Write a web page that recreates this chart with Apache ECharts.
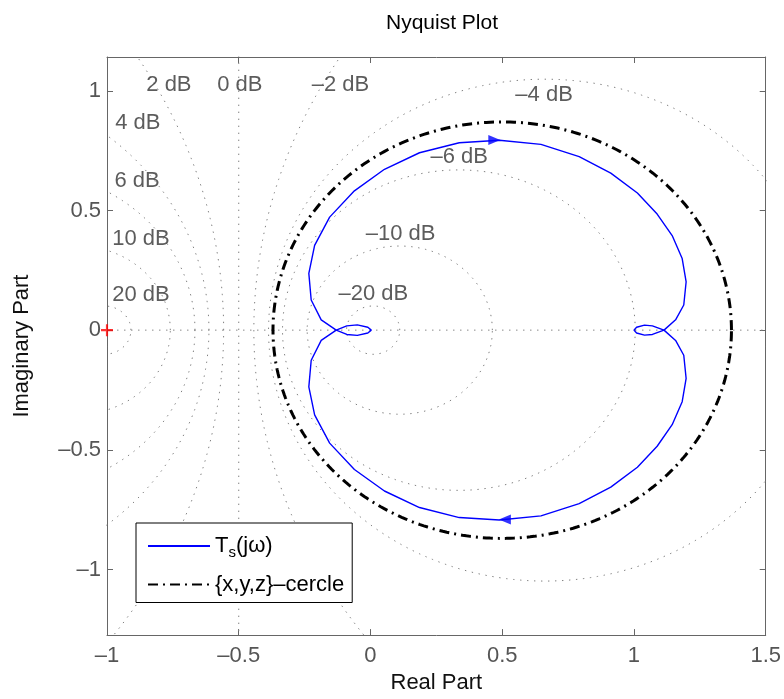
<!DOCTYPE html>
<html>
<head>
<meta charset="utf-8">
<title>Nyquist Plot</title>
<script src="https://cdn.jsdelivr.net/npm/echarts@6/dist/echarts.min.js"></script>
<style>
  html, body { margin: 0; padding: 0; background: #fff; }
  #chart { width: 784px; height: 699px; }
</style>
</head>
<body>
<div id="chart"></div>
<script>
// T_s(jw), in drawing order (closed path)
var tsRe = [-0.130, -0.187, -0.225, -0.234, -0.212, -0.155, -0.061, 0.053, 0.186, 0.337, 0.489, 0.647, 0.792, 0.912, 1.013, 1.088, 1.145, 1.183, 1.198, 1.189, 1.158, 1.114,
  1.070, 1.040, 1.010, 1.000, 1.010, 1.040, 1.070, 1.114,
  1.158, 1.189, 1.198, 1.183, 1.145, 1.088, 1.013, 0.912, 0.792, 0.647, 0.489, 0.337, 0.186, 0.053, -0.061, -0.155, -0.212, -0.234, -0.225, -0.187, -0.130,
  -0.090, -0.050, -0.010, 0.003, -0.010, -0.050, -0.090, -0.130]
var tsIm = [0.000, 0.043, 0.126, 0.237, 0.354, 0.472, 0.582, 0.672, 0.741, 0.783, 0.793, 0.776, 0.725, 0.656, 0.573, 0.485, 0.395, 0.299, 0.202, 0.105, 0.043, 0.000,
  -0.018, -0.021, -0.012, 0.000, 0.012, 0.021, 0.018, 0.000,
  -0.043, -0.105, -0.202, -0.299, -0.395, -0.485, -0.573, -0.656, -0.725, -0.776, -0.793, -0.783, -0.741, -0.672, -0.582, -0.472, -0.354, -0.237, -0.126, -0.043, 0.000,
  0.018, 0.022, 0.012, 0.000, -0.012, -0.022, -0.018, 0.000]

// direction arrows on T_s
var arrowRe = [0.47, 0.51]
var arrowIm = [0.794, -0.791]
var arrowRot = [-90, 90]

// {x,y,z} circle
var cercleCenter = [0.5, 0]
var cercleRadius = 0.87

// M-circles (dB) of the nyquist grid, 0 dB is the line Re = -0.5
var gridDb = [-20, -10, -6, -4, -2, 2, 4, 6, 10, 20]
var dbText = ['20 dB', '10 dB', '6 dB', '4 dB', '2 dB', '0 dB', '\u20132 dB', '\u20134 dB', '\u20136 dB', '\u201310 dB', '\u201320 dB']
var dbTextRe = [-0.871, -0.871, -0.886, -0.883, -0.765, -0.496, -0.114, 0.659, 0.337, 0.114, 0.011]
var dbTextIm = [0.145, 0.382, 0.622, 0.867, 1.025, 1.025, 1.025, 0.983, 0.722, 0.402, 0.153]

var xTicks = [-1, -0.5, 0, 0.5, 1, 1.5]
var yTicks = [-1, -0.5, 0, 0.5, 1]
var seriesNames = ['T_s(j\u03c9)', '{x,y,z}\u2013cercle']

var FONT = 'Liberation Sans, Arial, Helvetica, sans-serif'
var FS = 22

function circlePts(cx, cy, r) {
  var pts = []
  for (var i = 0; i <= 720; i++) {
    var t = i / 720 * 2 * Math.PI
    pts.push([cx + r * Math.cos(t), cy + r * Math.sin(t)])
  }
  return pts
}

function mCircle(db) {
  var m = Math.pow(10, db / 20)
  var m2 = m * m
  return circlePts(-m2 / (m2 - 1), 0, Math.abs(m / (m2 - 1)))
}

function fmt(v) {
  return v < 0 ? '\u2013' + String(-v) : String(v)
}

var gridLine = { color: '#808080', width: 1, type: [1.4, 5.6] }

var series = []
gridDb.forEach(function (db) {
  series.push({
    type: 'line', data: mCircle(db), symbol: 'none', silent: true,
    lineStyle: gridLine, z: 1
  })
})
series.push({ type: 'line', data: [[-0.5, -5], [-0.5, 5]], symbol: 'none', silent: true, lineStyle: gridLine, z: 1 })
series.push({ type: 'line', data: [[-5, 0], [5, 0]], symbol: 'none', silent: true, lineStyle: gridLine, z: 1 })

series.push({
  type: 'scatter', silent: true, symbolSize: 0, z: 3,
  data: dbText.map(function (t, i) { return { value: [dbTextRe[i], dbTextIm[i]], name: t } }),
  label: {
    show: true, position: 'inside', formatter: '{b}',
    fontSize: FS, color: '#333', fontFamily: FONT
  }
})

series.push({
  name: seriesNames[1], type: 'line', symbol: 'none', z: 4,
  data: circlePts(cercleCenter[0], cercleCenter[1], cercleRadius),
  itemStyle: { color: '#000' },
  lineStyle: { color: '#000', width: 3, type: [10, 5, 2, 5] }
})

series.push({
  name: seriesNames[0], type: 'line', symbol: 'none', z: 5,
  data: tsRe.map(function (v, i) { return [v, tsIm[i]] }),
  itemStyle: { color: '#0000ff' },
  lineStyle: { color: '#0000ff', width: 1.4 }
})

series.push({
  type: 'scatter', silent: true, z: 6, symbol: 'triangle', symbolSize: [10, 12],
  data: arrowRe.map(function (v, i) { return { value: [v, arrowIm[i]], symbolRotate: arrowRot[i] } }),
  itemStyle: { color: '#0000ff' }
})

// critical point -1
series.push({
  type: 'scatter', silent: true, z: 7, clip: false,
  symbol: 'path://M0,4.1L10,4.1L10,5.9L0,5.9Z M4.1,0L5.9,0L5.9,10L4.1,10Z', symbolSize: 12,
  data: [[-1, 0]], itemStyle: { color: '#ff0000' }
})

var axisCommon = {
  type: 'value', splitLine: { show: false },
  axisLine: { show: true, onZero: false, lineStyle: { color: '#666', width: 1 } },
  axisTick: { show: true, inside: true, length: 6, lineStyle: { color: '#666' } }
}

var chart = echarts.init(document.getElementById('chart'))
chart.setOption({
  animation: false,
  backgroundColor: '#fff',
  textStyle: { fontFamily: FONT },
  title: {
    text: 'Nyquist Plot', left: 437, top: 8, textAlign: 'center',
    textStyle: { fontSize: 21, fontWeight: 'normal', color: '#000', fontFamily: FONT }
  },
  grid: { left: 107, right: 17, top: 57, bottom: 60, containLabel: false },
  legend: {
    data: seriesNames, orient: 'vertical', left: 136, top: 523,
    backgroundColor: '#fff', borderColor: '#000', borderWidth: 1, borderRadius: 0,
    padding: [12, 8, 7, 11], itemGap: 13, itemWidth: 62, itemHeight: 14,
    itemStyle: { opacity: 0 },
    textStyle: {
      fontSize: FS, color: '#000', fontFamily: FONT,
      rich: { a: { fontSize: FS, color: '#000' }, s: { fontSize: 15, color: '#000', padding: [14, 0, 0, 0] } }
    },
    formatter: function (name) {
      return name === seriesNames[0] ? '{a|T}{s|s}{a|(j\u03c9)}' : name
    }
  },
  xAxis: [
    Object.assign({}, axisCommon, {
      min: -1, max: 1.5, interval: 0.5, position: 'bottom',
      name: 'Real Part', nameLocation: 'middle', nameGap: 33,
      nameTextStyle: { fontSize: FS, color: '#111', fontFamily: FONT },
      axisLabel: { fontSize: FS, color: '#555', margin: 10, formatter: fmt }
    }),
    Object.assign({}, axisCommon, {
      min: -1, max: 1.5, interval: 0.5, position: 'top', axisLabel: { show: false }
    })
  ],
  yAxis: [
    Object.assign({}, axisCommon, {
      min: -1.274, max: 1.141, position: 'left',
      name: 'Imaginary Part', nameLocation: 'middle', nameGap: 74,
      nameTextStyle: { fontSize: FS, color: '#111', fontFamily: FONT },
      axisTick: Object.assign({}, axisCommon.axisTick, { customValues: yTicks }),
      axisLabel: { fontSize: FS, color: '#555', margin: 6, formatter: fmt, customValues: yTicks }
    }),
    Object.assign({}, axisCommon, {
      min: -1.274, max: 1.141, position: 'right',
      axisTick: Object.assign({}, axisCommon.axisTick, { customValues: yTicks }),
      axisLabel: { show: false, customValues: yTicks }
    })
  ],
  series: series
})
</script>
</body>
</html>
